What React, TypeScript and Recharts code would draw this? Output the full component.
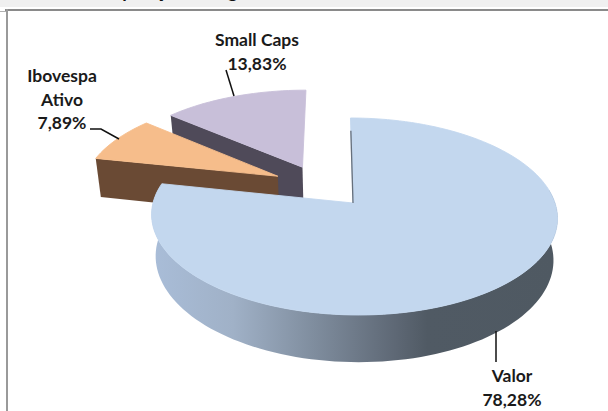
import React from "react";
import { PieChart, Pie } from "recharts";

const categories = ["Small Caps", "Ibovespa Ativo", "Valor"];
const shares = [13.83, 7.89, 78.28];
const chartTitle = "Composição Categoria";

const rows = categories.map((name, i) => ({ name, value: shares[i] }));

const W = 608;
const H = 411;
const FONT = "Lato, 'Open Sans', sans-serif";
const K = 0.137;

type Look = { top: string; wall: string; dx: number; dy: number; rim: boolean };
const LOOK: Record<string, Look> = {
  "Small Caps": { top: "#c8bfd9", wall: "#4f4a59", dx: -0.257, dy: 0.39, rim: false },
  "Ibovespa Ativo": { top: "#f6bd8b", wall: "#6a4a34", dx: -0.383, dy: 0.288, rim: false },
  Valor: { top: "#c3d7ee", wall: "url(#valorWall)", dx: 0, dy: 0, rim: true },
};

type LabelSpot = { x: number; ys: number[]; line: string };
const SPOT: Record<string, LabelSpot> = {
  "Small Caps": { x: 257, ys: [46, 70], line: "M226 70L234 96" },
  "Ibovespa Ativo": { x: 62, ys: [82, 106, 129], line: "M90 129L101 129L119 139" },
  Valor: { x: 512, ys: [382, 406], line: "M496 331L496 362" },
};

function SliceShape(props: any) {
  const { cx, cy, outerRadius: R, startAngle, endAngle, name } = props;
  const look = LOOK[name] ?? LOOK[props.payload?.name];
  const project = (deg: number | null, lower: boolean) => {
    const t = deg === null ? 0 : (deg * Math.PI) / 180;
    const r = deg === null ? 0 : 1;
    const u = look.dx + r * Math.cos(t);
    const v = look.dy + r * Math.sin(t);
    const d = 1 + K * v;
    const xs = lower ? 1.97 : 2.01;
    const ys = lower ? 1.02 : 0.9665;
    const px = cx + (xs * R * u) / d - (4 * v) / d - (deg === null ? 1 : 0);
    const py = cy + (lower ? 41 : 0) - (ys * R * v) / d;
    return [px, py];
  };
  const arc = (lower: boolean, from: number, to: number) => {
    const pts: number[][] = [];
    const n = Math.max(1, Math.ceil((to - from) / 2));
    for (let i = 0; i <= n; i++) {
      pts.push(project(from + ((to - from) * i) / n, lower));
    }
    return pts;
  };
  const toPath = (pts: number[][]) =>
    "M" + pts.map((p) => `${p[0].toFixed(2)} ${p[1].toFixed(2)}`).join("L") + "Z";
  const topArc = arc(false, startAngle, endAngle);
  const lowArc = arc(true, startAngle, endAngle);
  const apexT = project(null, false);
  const apexB = project(null, true);
  const face = toPath([apexT, ...topArc]);
  const nearTop = arc(false, 170, 368);
  const nearLow = arc(true, 170, 368);
  const last = topArc[topArc.length - 1];
  const edgeStart = [apexT[0] + (last[0] - apexT[0]) * 0.85, apexT[1] + (last[1] - apexT[1]) * 0.85];
  return (
    <g>
      {look.rim ? (
        <path d={toPath([...nearTop, ...[...nearLow].reverse()])} fill={look.wall} />
      ) : (
        <path
          d={toPath([apexT, last, lowArc[lowArc.length - 1], apexB])}
          fill={look.wall}
        />
      )}
      <path d={face} fill={look.top} stroke={look.top} strokeWidth={0.9} />
      {look.rim && (
        <path
          d={`M${edgeStart[0]} ${edgeStart[1]}L${apexT[0]} ${apexT[1]}`}
          stroke="#66707c"
          strokeWidth={1.3}
          fill="none"
        />
      )}
    </g>
  );
}

function SliceLabel(props: any) {
  const name: string = props.name ?? props.payload?.name;
  const spot = SPOT[name];
  const words = name === "Small Caps" ? [name] : name.split(" ");
  const lines = [...words, props.value.toFixed(2).replace(".", ",") + "%"];
  return (
    <g>
      <path d={spot.line} fill="none" stroke="#111" strokeWidth={1.5} />
      {lines.map((t, i) => (
        <text
          key={t}
          x={spot.x}
          y={spot.ys[i]}
          textAnchor="middle"
          fontFamily={FONT}
          fontWeight={700}
          fontSize={17.5}
          fill="#1a1a1a"
        >
          {t}
        </text>
      ))}
    </g>
  );
}

export default function App() {
  return (
    <div style={{ position: "absolute", left: 0, top: 0, width: W, height: H, background: "#fff", overflow: "hidden" }}>
      <div style={{ position: "absolute", left: 0, top: 0, width: W, height: 7, background: "#f0f0f0", overflow: "hidden" }}>
        <div
          style={{
            position: "absolute",
            left: 84,
            top: -19,
            fontFamily: FONT,
            fontWeight: 700,
            fontSize: 18.5,
            lineHeight: "20px",
            color: "#111",
            whiteSpace: "nowrap",
          }}
        >
          {chartTitle}
        </div>
      </div>
      <div style={{ position: "absolute", left: 5, top: 9, right: 0, height: 2, background: "#8a8a8a" }} />
      <div style={{ position: "absolute", left: 6, top: 9, width: 2, bottom: 0, background: "#9a9a9a" }} />
      <div style={{ position: "absolute", left: 0, top: 11, width: 6, height: 1, background: "#b0b0b0" }} />
      <div style={{ position: "absolute", left: 0, top: 0 }}>
        <PieChart width={W} height={H} margin={{ top: 0, right: 0, bottom: 0, left: 0 }}>
          <defs>
            <linearGradient id="valorWall" gradientUnits="userSpaceOnUse" x1="152" y1="0" x2="557" y2="0">
              <stop offset="0" stopColor="#a9bdd8" />
              <stop offset="0.2" stopColor="#a0b1c7" />
              <stop offset="0.4" stopColor="#7f8d9e" />
              <stop offset="0.6" stopColor="#5e6875" />
              <stop offset="0.68" stopColor="#505a64" />
              <stop offset="1" stopColor="#4f5962" />
            </linearGradient>
          </defs>
          <Pie
            data={rows}
            dataKey="value"
            nameKey="name"
            cx={354}
            cy={203}
            outerRadius={100}
            startAngle={90}
            endAngle={450}
            paddingAngle={0}
            stroke="none"
            shape={SliceShape}
            label={SliceLabel}
            labelLine={false}
            isAnimationActive={false}
          />
        </PieChart>
      </div>
    </div>
  );
}
